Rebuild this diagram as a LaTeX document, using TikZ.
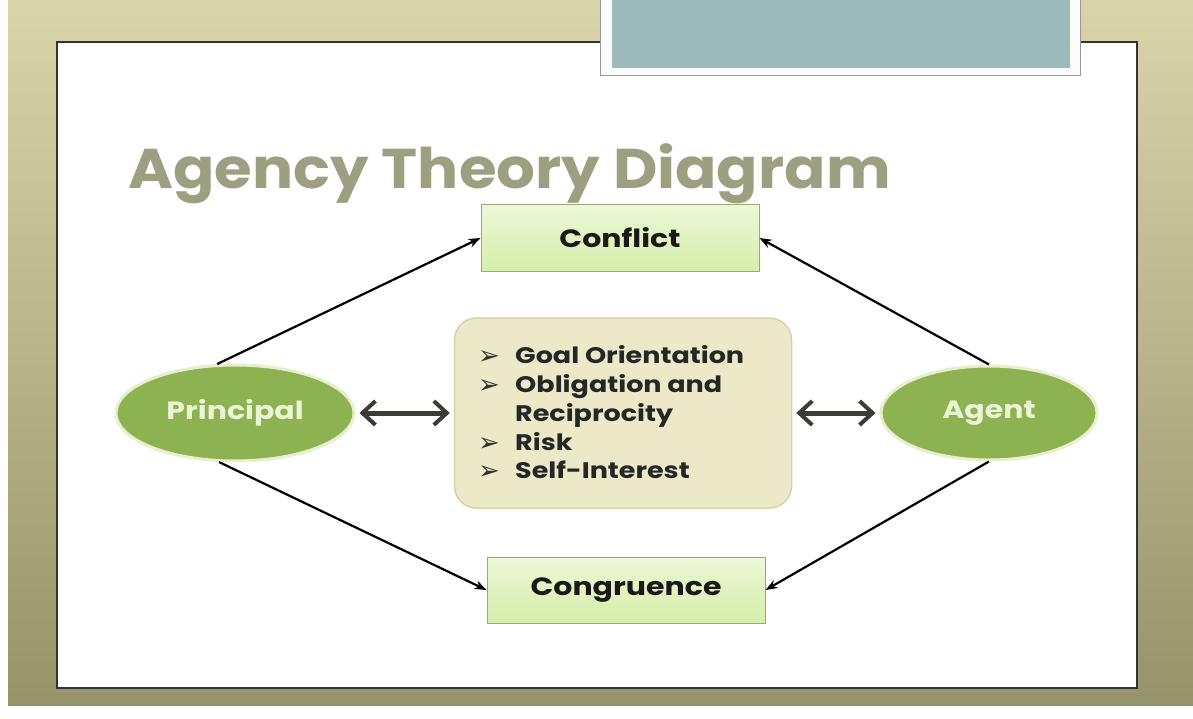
\documentclass[tikz,border=0pt]{standalone}
\usepackage{fontspec}
\setmainfont{Poppins}
\newfontfamily\dejavu{DejaVu Sans}
\newfontfamily\titlefont[FakeStretch=1.09]{Poppins}
\newfontfamily\widefont[FakeStretch=1.2]{Poppins}
\usetikzlibrary{shapes.geometric,arrows.meta,calc}
\definecolor{bgtop}{RGB}{218,212,170}
\definecolor{bgbot}{RGB}{150,146,104}
\definecolor{teal}{RGB}{156,186,186}
\definecolor{titlec}{RGB}{158,158,128}
\definecolor{boxgreenA}{RGB}{236,248,214}
\definecolor{boxgreenB}{RGB}{214,238,170}
\definecolor{boxedge}{RGB}{150,170,120}
\definecolor{beige}{RGB}{236,233,200}
\definecolor{beigeedge}{RGB}{215,210,170}
\definecolor{ellfill}{RGB}{140,178,82}
\definecolor{elledge}{RGB}{230,240,205}
\definecolor{elltext}{RGB}{236,244,214}
\definecolor{darkarrow}{RGB}{60,60,55}
\tikzset{
  gbox/.style={draw=boxedge, line width=1pt, top color=boxgreenA, bottom color=boxgreenB, minimum width=278pt, minimum height=66pt, text=black!90, font=\widefont\fontsize{25}{28}\selectfont\bfseries},
  ell/.style={ellipse, draw=elledge, line width=3pt, fill=ellfill, text=elltext, font=\widefont\fontsize{25}{28}\selectfont\bfseries},
  thin arrow/.style={-{Stealth[length=12pt,width=9pt]}, line width=2.2pt, black},
  thick arrow/.style={{Straight Barb[length=13pt,width=24pt,line width=4pt]}-{Straight Barb[length=13pt,width=24pt,line width=4pt]}, line width=5pt, darkarrow},
  bul/.style={anchor=base west, inner sep=0pt, font=\widefont\fontsize{22.5}{26}\selectfont\bfseries, text=black!85},
  bmark/.style={anchor=base west, inner sep=0pt, font=\dejavu\fontsize{26}{28}\selectfont, text=black!80}
}
\begin{document}
\begin{tikzpicture}[x=1pt,y=-1pt]
\useasboundingbox (0,0) rectangle (1193,719);
% background
\shade[top color=bgtop, bottom color=bgbot] (0,0) rectangle (1193,719);
\fill[white] (0,0) rectangle (8,719);
\fill[white] (0,706) rectangle (1193,719);
% slide panel
\node[draw=black!80, line width=1.5pt, fill=white, minimum width=1080pt, minimum height=646pt, inner sep=0pt] (panel) at (597,365) {};
% teal box
\node[draw=black!40, line width=1pt, fill=white!95!teal, minimum width=480pt, minimum height=80pt, inner sep=0pt] (tealframe) at (840,36) {};
\node[fill=teal, minimum width=458pt, minimum height=70pt, inner sep=0pt] (tealbox) at (841,33) {};
% title
\node[anchor=base west, text=titlec, font=\titlefont\fontsize{56}{60}\selectfont\bfseries, inner sep=0pt] (title) at (128,189) {Agency Theory Diagram};
% boxes
\node[gbox] (conflict) at (620,238) {Conflict};
\node[gbox] (congr) at (626,590) {Congruence};
% center box
\node[draw=beigeedge, line width=1.5pt, fill=beige, rounded corners=22pt, minimum width=337pt, minimum height=190pt] (center) at (623,413) {};
\node[bmark] (m1) at (478,364) {➢};
\node[bmark] (m2) at (478,393) {➢};
\node[bmark] (m3) at (478,451) {➢};
\node[bmark] (m4) at (478,479) {➢};
\node[bul] (b1) at (515,363) {Goal Orientation};
\node[bul] (b2) at (515,392) {Obligation and};
\node[bul] (b2b) at (515,421) {Reciprocity};
\node[bul] (b3) at (515,450) {Risk};
\node[bul] (b4) at (515,478) {Self-Interest};
% ellipses
\node[ell, minimum width=238pt, minimum height=96pt] (principal) at (235,413) {Principal};
\node[ell, minimum width=216pt, minimum height=94pt] (agent) at (989,413) {Agent};
% connectors
\draw[thin arrow] (principal.110) -- (conflict.west);
\draw[thin arrow] (agent.90) -- (conflict.east);
\draw[thin arrow] (principal.-108) -- (congr.west);
\draw[thin arrow] (agent.-90) -- (congr.east);
\draw[thick arrow] (principal.east) ++(4,0) -- ($(center.west)+(-4,0)$);
\draw[thick arrow] ($(center.east)+(4,0)$) -- ($(agent.west)+(-4,0)$);
\end{tikzpicture}
\end{document}
